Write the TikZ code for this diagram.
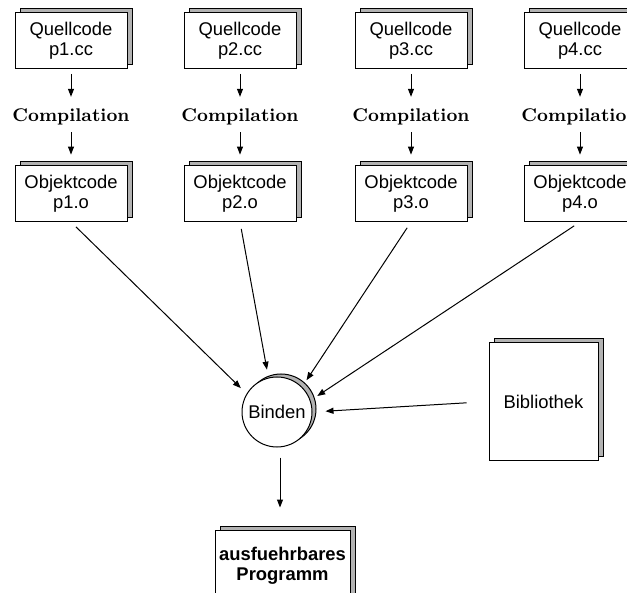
\documentclass[tikz,border=0pt]{standalone}
\usepackage{fontspec}
\newfontfamily\helv{Liberation Sans}
\usetikzlibrary{arrows.meta,shadows}

\tikzset{
  datei/.style={draw, fill=white, align=center, inner sep=0pt,
    font=\helv\fontsize{9.2}{10}\selectfont,
    minimum width=56pt, minimum height=28pt,
    general shadow={shadow xshift=2.5pt, shadow yshift=2pt, fill=black!30, draw=black}},
  schritt/.style={font=\bfseries\fontsize{9.2}{10}\selectfont},
  prozess/.style={circle, draw, fill=white, inner sep=0pt, minimum size=35pt,
    font=\helv\fontsize{9.2}{10}\selectfont,
    general shadow={shadow xshift=2pt, shadow yshift=1.5pt, fill=black!30, draw=black}},
}

\begin{document}
\begin{tikzpicture}[x=0.5pt, y=-0.5pt, line width=0.5pt, >={Triangle[length=4pt,width=3pt]}]
		\clip (0,0) rectangle (627,593);
		% quellen
		\node[datei] (q1) at (71,40.5) {Quellcode\\p1.cc};
		\node[datei] (q2) at (240,40.5) {Quellcode\\p2.cc};
		\node[datei] (q3) at (411,40.5) {Quellcode\\p3.cc};
		\node[datei] (q4) at (580,40.5) {Quellcode\\p4.cc};
		
		\node[schritt] (c1) at (71,117) {Compilation};
		\node[schritt] (c2) at (240,117) {Compilation};
		\node[schritt] (c3) at (411,117) {Compilation};
		\node[schritt] (c4) at (580,117) {Compilation};
		
		\node[datei] (o1) at (71,193.5) {Objektcode\\p1.o};
		\node[datei] (o2) at (240,193.5) {Objektcode\\p2.o};
		\node[datei] (o3) at (411,193.5) {Objektcode\\p3.o};
		\node[datei] (o4) at (580,193.5) {Objektcode\\p4.o};
		
		% binden
		\node[prozess] (binden) at (277,412) {Binden};
		\node[datei, minimum width=54.5pt, minimum height=58.5pt] (bib) at (543.5,401.5) {Bibliothek};
		\node[datei, minimum width=67.5pt, minimum height=36pt, font=\helv\bfseries\fontsize{9.2}{10}\selectfont] (prog) at (282.5,566) {ausfuehrbares\\Programm};
		
		\draw [->, shorten <=2.5pt, shorten >=2.4pt] (q1) -- (c1);
		\draw [->, shorten <=2.5pt, shorten >=2.4pt] (q2) -- (c2);
		\draw [->, shorten <=2.5pt, shorten >=2.4pt] (q3) -- (c3);
		\draw [->, shorten <=2.5pt, shorten >=2.4pt] (q4) -- (c4);
		\draw [->, shorten >=5.2pt] (c1) -- (o1);
		\draw [->, shorten >=5.2pt] (c2) -- (o2);
		\draw [->, shorten >=5.2pt] (c3) -- (o3);
		\draw [->, shorten >=5.2pt] (c4) -- (o4);
		
		\draw [->, shorten <=3.5pt, shorten >=4pt] (o1.south) -- (binden.149);
		\draw [->, shorten <=3.5pt, shorten >=4pt] (o2.south) -- (binden.104);
		\draw [->, shorten <=3.5pt, shorten >=4pt] (o3.south) -- (binden.45);
		\draw [->, shorten <=3.5pt, shorten >=4pt] (o4.south) -- (binden.19);
		\draw [->, shorten <=11pt, shorten >=6.5pt] (bib.west) -- (binden.east);
		\draw [->, shorten <=5pt, shorten >=11pt] ([xshift=1.5pt]binden.south) -- ([xshift=1.5pt]binden.south |- prog.north);
	\end{tikzpicture}
\end{document}
